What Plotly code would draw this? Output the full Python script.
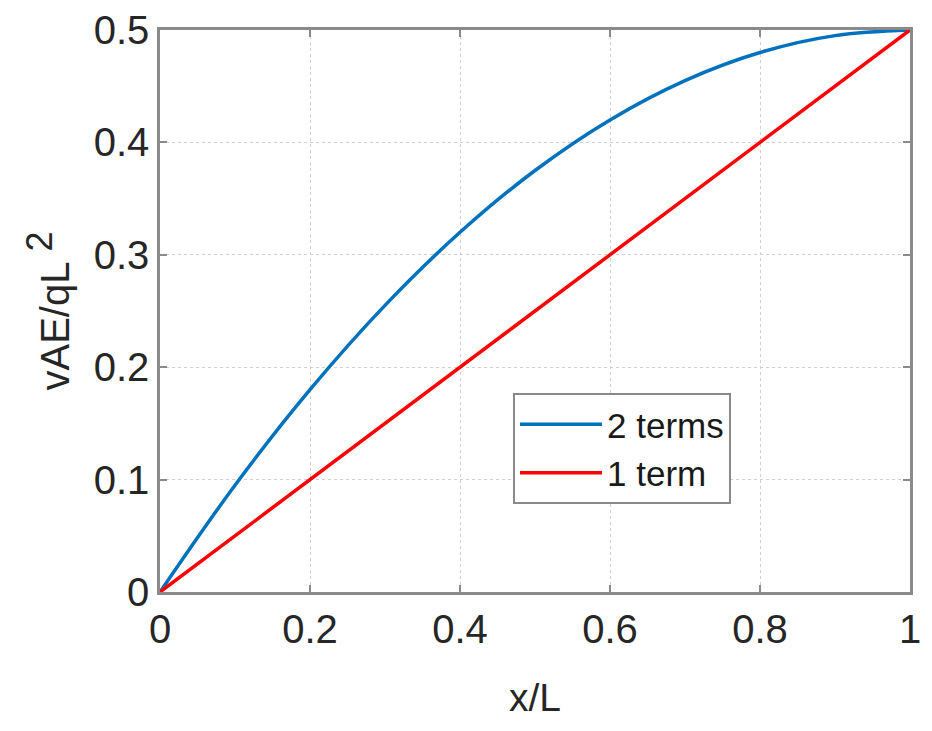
import plotly.graph_objects as go

x_two = [0, 0.1, 0.2, 0.3, 0.4, 0.5, 0.6, 0.7, 0.8, 0.9, 1.0]
y_two = [0, 0.095, 0.18, 0.255, 0.32, 0.375, 0.42, 0.455, 0.48, 0.495, 0.5]
x_one = [0, 1.0]
y_one = [0, 0.5]
x_ticks = [0, 0.2, 0.4, 0.6, 0.8, 1]
x_tick_text = ["0", "0.2", "0.4", "0.6", "0.8", "1"]
y_ticks = [0, 0.1, 0.2, 0.3, 0.4, 0.5]
y_tick_text = ["0", "0.1", "0.2", "0.3", "0.4", "0.5"]

font = "Liberation Sans, Arial, sans-serif"

fig = go.Figure()
fig.add_trace(go.Scatter(x=x_two, y=y_two, mode="lines", name="2 terms",
                         line=dict(color="#0072BD", width=3.5, shape="spline")))
fig.add_trace(go.Scatter(x=x_one, y=y_one, mode="lines", name="1 term",
                         line=dict(color="#FF0000", width=3.5)))

axis_common = dict(showline=True, linecolor="#8a8a8a", linewidth=2.5, mirror="ticks",
                   ticks="inside", ticklen=7, tickcolor="#8a8a8a", tickwidth=1.5,
                   showgrid=True, gridcolor="#d0d0d0", griddash="dot", gridwidth=1,
                   zeroline=False, automargin=False,
                   tickfont=dict(size=40, color="#262626", family=font))

fig.update_xaxes(range=[0, 1], tickvals=x_ticks, ticktext=x_tick_text,
                 title=dict(text="x/L", font=dict(size=39, color="#262626", family=font), standoff=34),
                 **axis_common)
fig.update_yaxes(range=[0, 0.5], tickvals=y_ticks, ticktext=y_tick_text,
                 title=dict(text="vAE/qL<sup><span style='font-size:36px'> 2</span></sup>",
                            font=dict(size=40, color="#262626", family=font), standoff=12),
                 **axis_common)

fig.update_layout(
    width=916, height=715,
    margin=dict(l=152, r=14, t=22, b=131),
    paper_bgcolor="white", plot_bgcolor="white",
    font=dict(family=font),
    legend=dict(x=0.4707, y=0.354, xanchor="left", yanchor="top",
                bgcolor="white", bordercolor="#8a8a8a", borderwidth=2,
                font=dict(size=35, color="#1a1a1a", family=font),
                tracegroupgap=0, itemwidth=82),
)

fig.write_html("out.html")
